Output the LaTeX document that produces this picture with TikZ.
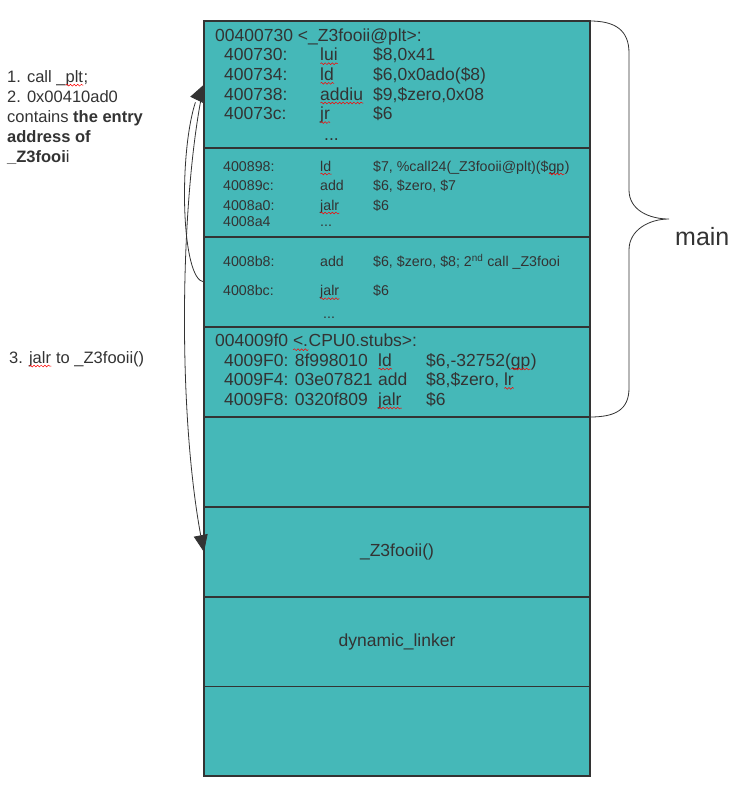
\documentclass[tikz,border=0pt]{standalone}
\usepackage{fontspec}
\setmainfont{Liberation Sans}
\usetikzlibrary{arrows.meta, bending, decorations.pathmorphing}

\definecolor{ink}{RGB}{51,51,51}
\definecolor{memfill}{RGB}{69,184,184}
% red wavy line of the spell checker
\newlength\typowd
\newcommand\typo[1]{\settowidth\typowd{#1}\rlap{#1}\tikz[baseline=0pt]\draw[red, line width=0.5pt, decorate, decoration={snake, amplitude=0.9pt, segment length=3.6pt}] (0pt,-3pt) -- (\typowd,-3pt);}

\begin{document}
\begin{tikzpicture}[x=1pt, y=-1pt, ink]
	\tikzstyle{cell}  = [draw=ink, fill=memfill, line width=1.1pt, minimum width=386pt, inner sep=0pt, outer sep=0pt, text=ink, font=\fontsize{17.5}{21}\selectfont]
	\tikzstyle{big}   = [anchor=base west, inner sep=0pt, text=ink, font=\fontsize{17.5}{21}\selectfont]
	\tikzstyle{small} = [anchor=base west, inner sep=0pt, text=ink, font=\fontsize{14.2}{17}\selectfont]
	\tikzstyle{note}  = [anchor=base west, inner sep=0pt, text=ink, font=\fontsize{16.5}{20}\selectfont]
	\tikzstyle{jump}  = [draw=ink, line width=0.8pt, -{Triangle[length=17pt, width=14pt, flex]}]

	\useasboundingbox (0,0) rectangle (744,788);

	% memory map
	\foreach \name/\ya/\yb/\lbl in {plt/21/148/{}, call/148/237/{}, call2/237/327/{}, stubs/327/417/{}, free/417/507/{}, foo/507/597/{\_Z3fooii()}, linker/597/686.5/{dynamic\_linker}, rest/686.5/776/{}}
		\node[cell, minimum height={\yb-\ya}] (\name) at (397, {(\ya+\yb)/2}) {\lbl};

	% plt entry
	\node[big] (plthead) at (215,41) {00400730 <\_Z3fooii@plt>:};
	\foreach \i/\y/\adr/\ins/\arg in {1/60.7/400730:/\typo{lui}/{\$8,0x41}, 2/80.3/400734:/\typo{ld}/{\$6,0x0ado(\$8)}, 3/100/400738:/\typo{addiu}/{\$9,\$zero,0x08}, 4/119.5/40073c:/\typo{jr}/{\$6}} {
		\node[big] (pa\i) at (224,\y) {\adr};
		\node[big] (pi\i) at (320,\y) {\ins};
		\node[big] (po\i) at (373,\y) {\arg};
	}
	\node[big] (pdots) at (324,140) {...};

	% first call
	\foreach \i/\y/\adr/\ins/\arg in {1/171/400898:/\typo{ld}/{\$7, \%call24(\_Z3fooii@plt)(\$\typo{gp})}, 2/190/40089c:/add/{\$6, \$zero, \$7}, 3/210/4008a0:/\typo{jalr}/{\$6}} {
		\node[small] (ca\i) at (223,\y) {\adr};
		\node[small] (ci\i) at (320,\y) {\ins};
		\node[small] (co\i) at (373,\y) {\arg};
	}
	\node[small] (ca4) at (223,226.7) {4008a4};
	\node[small] (ci4) at (320,226.7) {...};

	% second call
	\node[small] (da1) at (223,266.7) {4008b8:};
	\node[small] (di1) at (320,266.7) {add};
	\node[small] (do1) at (373,266.7) {\$6, \$zero, \$8; 2\textsuperscript{nd} call \_Z3fooi};
	\node[small] (da2) at (223,295.7) {4008bc:};
	\node[small] (di2) at (320,295.7) {\typo{jalr}};
	\node[small] (do2) at (373,295.7) {\$6};
	\node[small] (ddots) at (323,318) {...};

	% stubs
	\node[big] (stubhead) at (215,346.7) {004009f0 \typo{<.}CPU0.stubs>:};
	\foreach \i/\y/\adr/\ins/\arg in {1/366/{4009F0: 8f998010}/\typo{ld}/{\$6,-32752(\typo{gp})}, 2/385.3/{4009F4: 03e07821}/add/{\$8,\$zero, \typo{lr}}, 3/405/{4009F8: 0320f809}/\typo{jalr}/{\$6}} {
		\node[big] (sa\i) at (224,\y) {\adr};
		\node[big] (si\i) at (378,\y) {\ins};
		\node[big] (so\i) at (426,\y) {\arg};
	}

	% notes on the left
	\node[note, align=left, anchor=north west] (steps) at (7,70) {1. call \_\typo{plt};\\2. 0x00410ad0\\contains \textbf{the entry}\\\textbf{address of}\\\textbf{\_Z3fooi}i};
	\node[note] (jalrnote) at (9,363) {3. \typo{jalr} to \_Z3fooii()};

	\draw[jump] (call2.west) .. controls +(-26,-2) and +(-26,32) .. (plt.west);
	\draw[jump] (plt.west) .. controls +(-24,108) and +(-28,-131) .. (foo.west);

	% brace
	\draw[line width=0.8pt] (plt.north east) .. controls +(25,0) and +(0,-23) .. (629,53) -- (629,190)
		.. controls +(0,20) and +(-20,0) .. (669,219) coordinate (tip)
		.. controls +(-20,0) and +(0,-20) .. (629,250) -- (629,388)
		.. controls +(0,22) and +(25,0) .. (stubs.south east);
	\node[anchor=base west, inner sep=0pt, text=ink, font=\fontsize{25}{30}\selectfont] (mainlbl) at (675,245) {main};

\end{tikzpicture}
\end{document}
